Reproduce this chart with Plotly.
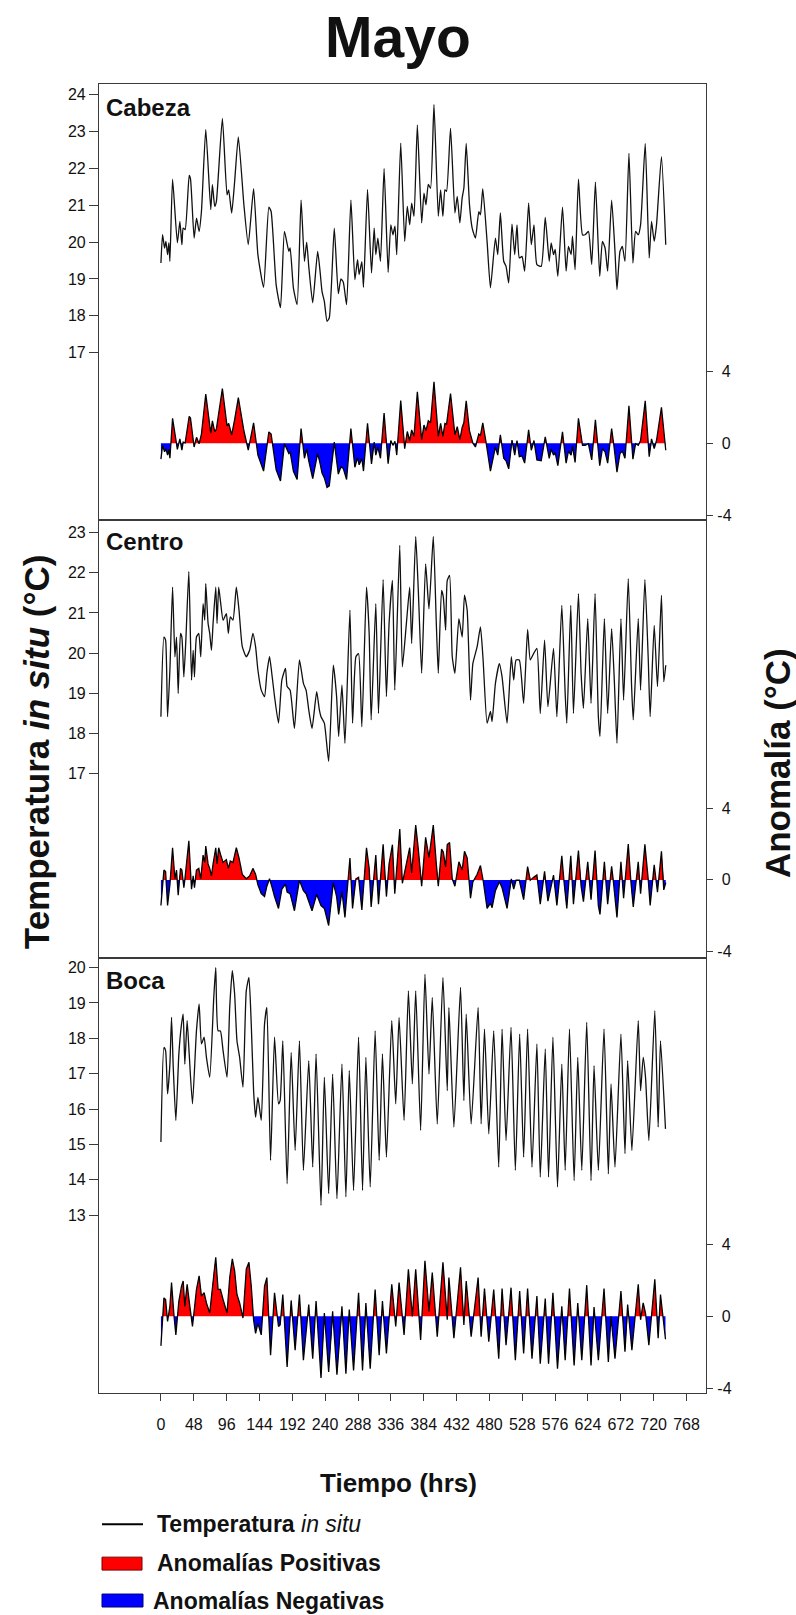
import plotly.graph_objects as go

# ---------------- data ----------------
# Cabeza: hours and in-situ temperature (turning points of the trace)
CABEZA_HRS = [0, 2.4, 5.3, 7.3, 9.7, 11.6, 13.1, 17.0, 24.0, 27.7, 30.6, 32.5, 35.4, 41.3, 43.2, 48.5, 52.0, 55.8,
              59.2, 65.5, 72.8, 75.2, 78.6, 81.0, 89.8, 96.6, 99.0, 103.4, 107.7, 113.1, 121.3, 127.6, 135.4, 141.7,
              150.0, 157.7, 161.0, 168.4, 174.7, 180.5, 186.9, 188.8, 193.6, 199.0, 204.8, 209.7, 213.0, 216.0,
              221.8, 229.0, 232.5, 235.4, 238.8, 242.7, 246.0, 253.3, 259.2, 263.0, 266.5, 271.3, 277.6, 283.4,
              287.3, 289.7, 293.6, 296.0, 301.9, 307.7, 311.6, 314.0, 317.0, 320.8, 326.1, 332.0, 335.9, 339.0,
              342.0, 344.6, 350.4, 356.2, 360.0, 363.5, 366.4, 369.8, 374.7, 381.0, 384.4, 387.3, 390.7, 394.0,
              399.0, 405.3, 408.7, 412.0, 415.0, 417.4, 423.2, 429.6, 433.0, 436.8, 440.2, 442.7, 446.1, 450.9,
              454.8, 459.6, 464.5, 466.9, 470.3, 476.6, 481.5, 488.8, 492.2, 496.0, 500.9, 504.3, 508.2, 513.0,
              517.0, 520.3, 523.7, 527.6, 531.5, 537.3, 541.2, 545.1, 549.4, 555.7, 561.6, 567.4, 570.3, 573.7,
              576.1, 580.0, 586.8, 592.1, 595.5, 599.4, 601.4, 605.2, 610.1, 616.0, 619.8, 624.7, 629.5, 634.9,
              641.2, 645.1, 649.0, 652.8, 658.6, 663.5, 666.4, 670.8, 674.2, 678.1, 683.9, 689.7, 693.6, 697.5,
              700.9, 707.7, 713.5, 716.9, 720.8, 724.2, 731.4, 737.7]
CABEZA_TEMP = [19.43, 20.20, 19.84, 20.02, 19.66, 19.98, 19.48, 21.71, 19.98, 20.56, 19.93, 20.38, 20.34, 21.81, 21.72,
               20.11, 20.65, 20.29, 20.83, 23.06, 20.88, 21.56, 20.97, 21.10, 23.36, 21.28, 21.42, 20.79, 21.64,
               22.86, 21.00, 19.93, 21.45, 19.66, 18.77, 20.95, 20.83, 18.84, 18.22, 20.29, 19.75, 19.84, 18.75,
               18.30, 21.14, 19.48, 20.00, 19.34, 18.35, 19.75, 19.21, 18.66, 18.39, 17.85, 17.94, 20.38, 18.60,
               19.00, 18.91, 18.30, 21.14, 18.98, 19.52, 19.12, 19.47, 18.77, 21.43, 19.16, 20.38, 19.66, 20.11,
               19.48, 22.00, 19.18, 20.47, 20.20, 20.43, 19.66, 22.69, 20.02, 20.97, 20.47, 21.06, 20.70, 23.18,
               20.52, 21.33, 21.01, 21.57, 21.46, 23.74, 20.70, 21.42, 20.70, 21.42, 21.38, 23.09, 20.79, 21.24,
               20.52, 21.20, 21.47, 22.68, 21.01, 20.38, 20.11, 20.83, 20.74, 21.45, 20.02, 18.76, 20.11, 19.66,
               20.79, 19.48, 19.34, 18.89, 20.49, 19.66, 20.47, 19.57, 19.61, 19.21, 21.06, 19.93, 20.47, 19.39,
               19.34, 20.67, 19.48, 19.98, 19.66, 19.80, 19.07, 20.95, 19.21, 19.88, 19.66, 20.16, 19.25, 21.71,
               20.20, 20.20, 20.29, 19.39, 21.63, 19.07, 20.02, 19.84, 19.21, 21.14, 19.75, 18.71, 19.75, 19.88,
               19.48, 22.41, 19.43, 20.29, 20.20, 20.47, 22.68, 19.57, 20.56, 20.02, 20.47, 22.32, 19.93]
CABEZA_ZERO = 20.32   # temperature at which the anomaly is 0

CENTRO_HRS = [0, 4.4, 6.8, 9.7, 13.1, 17.0, 20.4, 22.8, 25.2, 28.6, 30.6, 33.5, 36.4, 40.8, 44.7, 47.1, 49.0, 51.9,
              55.3, 58.2, 61.6, 64.0, 65.5, 68.9, 71.3, 73.8, 76.2, 80.1, 82.0, 84.4, 87.4, 90.8, 95.6, 98.5, 101.4,
              105.3, 110.2, 114.1, 118.9, 124.7, 129.6, 134.4, 138.3, 141.7, 146.6, 151.4, 154.8, 158.7, 162.6,
              166.0, 171.8, 176.7, 182.0, 184.4, 188.8, 195.1, 202.4, 208.2, 212.1, 216.0, 220.8, 227.6, 231.5,
              233.9, 238.8, 245.1, 251.9, 256.7, 259.7, 264.5, 268.9, 276.2, 280.0, 284.9, 288.8, 293.6, 300.4,
              304.3, 307.2, 314.0, 317.9, 324.7, 329.5, 333.4, 338.3, 341.7, 349.0, 352.8, 358.7, 363.5, 366.4,
              372.3, 376.1, 381.0, 386.8, 391.7, 398.0, 402.4, 405.3, 410.1, 412.6, 416.0, 418.4, 421.8, 425.7,
              429.6, 435.4, 440.2, 443.6, 447.5, 452.4, 455.8, 462.1, 466.9, 470.8, 476.6, 481.5, 483.9, 488.8,
              494.6, 498.5, 505.8, 512.0, 515.5, 518.9, 523.7, 530.0, 535.8, 539.7, 544.6, 549.4, 554.3, 560.6,
              565.5, 573.7, 578.6, 585.8, 590.7, 593.1, 598.9, 602.8, 610.1, 614.0, 617.4, 623.7, 628.5, 634.4,
              639.2, 641.6, 648.0, 652.8, 658.6, 662.5, 666.4, 672.2, 676.1, 682.9, 687.8, 690.2, 697.5, 700.9,
              707.2, 712.0, 714.9, 720.8, 725.6, 731.4, 734.8, 737.7]
CENTRO_TEMP = [18.42, 20.40, 20.32, 18.42, 19.58, 21.64, 19.91, 20.40, 19.00, 20.49, 20.40, 19.41, 20.32, 22.03, 19.33,
               20.07, 19.41, 20.40, 20.49, 19.91, 21.23, 20.82, 21.73, 20.74, 20.49, 20.07, 20.74, 21.64, 20.74,
               21.64, 21.23, 20.82, 20.98, 20.49, 20.90, 20.82, 21.64, 21.07, 20.16, 19.91, 20.07, 20.49, 20.16,
               19.58, 19.08, 18.92, 19.50, 19.91, 19.41, 18.92, 18.26, 19.33, 19.62, 19.17, 19.08, 18.13, 19.83,
               19.25, 19.08, 18.59, 18.13, 19.04, 18.59, 18.42, 18.26, 17.31, 19.70, 18.92, 17.93, 19.21, 17.76,
               21.07, 18.26, 19.91, 19.99, 18.17, 21.64, 20.49, 18.34, 21.23, 18.50, 21.83, 18.92, 20.74, 21.81,
               19.08, 22.68, 19.66, 20.74, 21.64, 20.24, 22.90, 21.56, 19.50, 22.22, 21.10, 22.90, 20.74, 19.50,
               21.56, 21.40, 20.57, 21.81, 21.93, 19.91, 19.50, 20.86, 20.40, 21.44, 21.07, 18.83, 19.74, 20.16,
               20.65, 19.83, 18.26, 18.55, 18.30, 19.25, 19.74, 19.41, 18.26, 19.91, 19.33, 19.83, 19.83, 18.75,
               20.59, 19.83, 19.99, 20.12, 18.50, 20.32, 18.67, 20.12, 18.42, 21.19, 19.00, 18.26, 21.19, 18.50,
               21.48, 19.50, 18.63, 20.86, 18.75, 21.48, 18.42, 17.93, 20.86, 18.50, 20.61, 19.33, 17.76, 20.86,
               18.83, 21.85, 19.17, 18.34, 20.86, 19.08, 21.83, 19.91, 18.42, 20.69, 19.17, 21.44, 19.29, 19.70]
CENTRO_ZERO = 19.85

BOCA_HRS = [0, 4.4, 6.8, 9.7, 13.1, 15.5, 18.0, 21.8, 26.2, 30.1, 32.5, 34.9, 38.3, 41.3, 46.1, 51.9, 55.8, 59.2,
            63.1, 66.5, 71.3, 77.2, 80.1, 83.5, 86.9, 90.8, 96.6, 100.5, 104.3, 107.7, 111.1, 115.0, 119.9, 124.7,
            128.6, 132.0, 135.4, 138.3, 141.7, 146.6, 151.4, 154.8, 160.2, 166.0, 171.8, 174.2, 178.1, 184.4,
            190.3, 196.1, 202.4, 208.2, 216.0, 221.8, 226.7, 233.9, 238.8, 245.1, 250.9, 257.2, 264.5, 270.3,
            275.2, 281.5, 288.8, 294.6, 299.5, 305.8, 313.0, 318.9, 323.7, 329.5, 337.3, 343.1, 348.0, 355.3,
            361.6, 367.4, 372.3, 379.5, 385.8, 391.7, 396.5, 403.8, 412.1, 418.4, 420.8, 428.1, 437.8, 442.7,
            446.1, 453.3, 463.5, 467.9, 472.8, 479.1, 486.3, 493.6, 498.5, 504.3, 511.6, 517.9, 524.2, 530.0,
            535.8, 542.2, 549.4, 554.3, 561.6, 566.4, 572.8, 579.5, 585.8, 590.7, 597.0, 603.8, 609.1, 615.0,
            622.2, 628.5, 632.9, 639.2, 647.5, 653.8, 657.7, 663.5, 672.2, 678.1, 682.0, 688.2, 697.5, 700.9,
            704.7, 708.1, 713.0, 721.7, 726.6, 730.0, 737.3]
BOCA_TEMP = [15.07, 17.74, 17.65, 16.43, 17.27, 18.59, 17.18, 15.68, 17.56, 18.40, 18.68, 17.27, 18.50, 17.56, 16.15,
             18.21, 18.97, 17.84, 18.03, 17.46, 16.90, 19.15, 20.00, 18.21, 18.21, 17.65, 16.90, 18.87, 19.91,
             19.25, 17.93, 17.46, 16.62, 19.34, 19.72, 18.40, 16.52, 15.77, 16.33, 15.68, 18.40, 18.87, 14.55,
             18.03, 16.15, 16.24, 17.93, 13.89, 17.60, 14.83, 17.93, 14.27, 17.37, 14.36, 17.56, 13.28, 16.90,
             13.61, 16.99, 13.47, 17.27, 13.52, 17.09, 13.70, 18.03, 13.70, 17.46, 13.80, 18.21, 14.55, 17.56,
             14.64, 18.50, 16.15, 18.59, 15.68, 19.34, 16.71, 19.34, 15.40, 19.81, 16.99, 19.15, 15.58, 19.72,
             16.52, 18.87, 15.49, 19.44, 16.24, 18.68, 15.58, 18.87, 15.58, 18.26, 15.30, 18.21, 14.36, 18.26,
             15.11, 18.31, 14.27, 18.12, 14.64, 18.26, 14.36, 17.84, 14.08, 17.70, 14.08, 18.03, 13.80, 17.27,
             14.27, 18.26, 13.98, 17.46, 14.27, 18.45, 13.98, 17.23, 14.27, 18.26, 14.17, 16.71, 14.36, 18.12,
             14.74, 17.37, 14.83, 18.50, 16.52, 17.46, 16.90, 15.11, 18.78, 15.49, 17.93, 15.44]
BOCA_ZERO = 16.72

PANEL_NAMES = ["Cabeza", "Centro", "Boca"]
TEMP_TICKS = [[17, 18, 19, 20, 21, 22, 23, 24], [17, 18, 19, 20, 21, 22, 23], [13, 14, 15, 16, 17, 18, 19, 20]]
ANOM_TICKS = [-4, 0, 4]
ANOM_TICK_TEXT = ["-4", "\u00a00", "\u00a04"]
HOUR_TICKS = list(range(0, 769, 48))

# ---------------- layout helpers ----------------
W, H = 796, 1615
FONT = "Liberation Sans, Arial, sans-serif"
AX = "#3a3a3a"
TXT = "#111111"


def px(x):
    return x / W


def py(y):
    return 1 - y / H


X_LEFT, X_RIGHT = 99, 706
X_RANGE = [-90.5, 796.5]
panels = [
    dict(name=PANEL_NAMES[0], t=CABEZA_HRS, T=CABEZA_TEMP, z=CABEZA_ZERO, top=84, bot=521.7,
         trange=[12.44, 24.30], arange=[-4.30, 20.02], ticks=TEMP_TICKS[0], label_y=108),
    dict(name=PANEL_NAMES[1], t=CENTRO_HRS, T=CENTRO_TEMP, z=CENTRO_ZERO, top=521.7, bot=960,
         trange=[12.43, 23.30], arange=[-4.33, 20.02], ticks=TEMP_TICKS[1], label_y=543),
    dict(name=PANEL_NAMES[2], t=BOCA_HRS, T=BOCA_TEMP, z=BOCA_ZERO, top=960, bot=1396,
         trange=[7.99, 20.28], arange=[-4.25, 19.97], ticks=TEMP_TICKS[2], label_y=983),
]


def split_anomaly(t, a):
    tt, aa = [t[0]], [a[0]]
    for i in range(1, len(t)):
        a0, a1 = a[i - 1], a[i]
        if a0 * a1 < 0:
            tc = t[i - 1] + (t[i] - t[i - 1]) * a0 / (a0 - a1)
            tt.append(tc)
            aa.append(0.0)
        tt.append(t[i])
        aa.append(a[i])
    return tt, aa, [max(v, 0) for v in aa], [min(v, 0) for v in aa]


fig = go.Figure()
layout = dict(width=W, height=H, margin=dict(l=0, r=0, t=0, b=0), paper_bgcolor="white",
              plot_bgcolor="rgba(0,0,0,0)", showlegend=False, font=dict(family=FONT, color=TXT))

annotations = []
for i, p in enumerate(panels):
    xa = "x" if i == 0 else f"x{i + 1}"
    ya_t = "y" if i == 0 else f"y{2 * i + 1}"
    ya_a = f"y{2 * i + 2}"
    xkey = "xaxis" if i == 0 else f"xaxis{i + 1}"
    ykey_t = "yaxis" if i == 0 else f"yaxis{2 * i + 1}"
    ykey_a = f"yaxis{2 * i + 2}"

    anom = [v - p["z"] for v in p["T"]]
    tt, aa, pos, neg = split_anomaly(p["t"], anom)

    fig.add_trace(go.Scatter(x=tt, y=pos, mode="lines", line=dict(width=0, color="red"),
                             fill="tozeroy", fillcolor="#ff0000", xaxis=xa, yaxis=ya_a, hoverinfo="skip"))
    fig.add_trace(go.Scatter(x=tt, y=neg, mode="lines", line=dict(width=0, color="blue"),
                             fill="tozeroy", fillcolor="#0000ff", xaxis=xa, yaxis=ya_a, hoverinfo="skip"))
    fig.add_trace(go.Scatter(x=tt, y=aa, mode="lines", line=dict(width=1.3, color="black"),
                             xaxis=xa, yaxis=ya_a))
    fig.add_trace(go.Scatter(x=p["t"], y=p["T"], mode="lines",
                             line=dict(width=1.3, color="#111111", shape="spline", smoothing=0.5),
                             xaxis=xa, yaxis=ya_t))

    dom = [py(p["bot"]), py(p["top"])]
    last = i == 2
    layout[xkey] = dict(domain=[px(X_LEFT), px(X_RIGHT)], range=X_RANGE, anchor=ya_t,
                        showline=True, mirror=True, linecolor=AX, linewidth=1.2,
                        showgrid=False, zeroline=False,
                        ticks="outside" if last else "", ticklen=7, tickcolor=AX,
                        tickvals=HOUR_TICKS if last else [], showticklabels=last,
                        ticklabelstandoff=10,
                        tickfont=dict(size=16, family=FONT, color=TXT))
    layout[ykey_t] = dict(domain=dom, range=p["trange"], anchor=xa, side="left",
                          showline=True, linecolor=AX, linewidth=1.2, showgrid=False, zeroline=False,
                          tickvals=p["ticks"], ticks="outside", ticklen=9, tickcolor=AX,
                          tickfont=dict(size=16, family=FONT, color=TXT))
    layout[ykey_a] = dict(overlaying=ya_t, range=p["arange"], anchor=xa, side="right",
                          showline=True, linecolor=AX, linewidth=1.2, showgrid=False, zeroline=False,
                          tickvals=ANOM_TICKS, ticktext=ANOM_TICK_TEXT, ticks="outside", ticklen=6,
                          tickcolor=AX, ticklabelstandoff=1,
                          tickfont=dict(size=16, family=FONT, color=TXT))

    annotations.append(dict(text=f"<b>{p['name']}</b>", x=px(104), y=py(p["label_y"]), xref="paper",
                            yref="paper", xanchor="left", yanchor="middle", showarrow=False,
                            font=dict(size=24, family=FONT, color=TXT)))

annotations += [
    dict(text="<b>Mayo</b>", x=px(398), y=py(37), xref="paper", yref="paper", showarrow=False,
         xanchor="center", yanchor="middle", font=dict(size=57, family=FONT, color=TXT)),
    dict(text="<b>Temperatura <i>in situ</i> (°C)</b>", x=px(36), y=py(754), xref="paper", yref="paper",
         showarrow=False, textangle=-90, xanchor="center", yanchor="middle",
         font=dict(size=35, family=FONT, color=TXT)),
    dict(text="<b>Anomalía (°C)</b>", x=px(777), y=py(765), xref="paper", yref="paper",
         showarrow=False, textangle=-90, xanchor="center", yanchor="middle",
         font=dict(size=35, family=FONT, color=TXT)),
    dict(text="<b>Tiempo (hrs)</b>", x=px(398), y=py(1487), xref="paper", yref="paper",
         showarrow=False, xanchor="center", yanchor="middle",
         font=dict(size=26, family=FONT, color=TXT)),
    dict(text="<b>Temperatura</b> <i>in situ</i>", x=px(155), y=py(1528), xref="paper", yref="paper",
         showarrow=False, xanchor="left", yanchor="middle", font=dict(size=23, family=FONT, color=TXT)),
    dict(text="<b>Anomalías Positivas</b>", x=px(155), y=py(1567), xref="paper", yref="paper",
         showarrow=False, xanchor="left", yanchor="middle", font=dict(size=23, family=FONT, color=TXT)),
    dict(text="<b>Anomalías Negativas</b>", x=px(151), y=py(1605), xref="paper", yref="paper",
         showarrow=False, xanchor="left", yanchor="middle", font=dict(size=23, family=FONT, color=TXT)),
]

shapes = [
    dict(type="line", xref="paper", yref="paper", x0=px(102), x1=px(143), y0=py(1528), y1=py(1528),
         line=dict(color="black", width=2)),
    dict(type="rect", xref="paper", yref="paper", x0=px(102), x1=px(142), y0=py(1574), y1=py(1561),
         fillcolor="#ff0000", line=dict(color="#7a0000", width=1)),
    dict(type="rect", xref="paper", yref="paper", x0=px(102), x1=px(143), y0=py(1611), y1=py(1598),
         fillcolor="#0000ff", line=dict(color="#00007a", width=1)),
]

layout["annotations"] = annotations
layout["shapes"] = shapes
fig.update_layout(**layout)
fig.write_html("out.html", config={"displayModeBar": False},
               post_script="document.body.style.margin='0px';document.body.style.padding='0px';"
                           "document.documentElement.style.overflow='hidden';")
